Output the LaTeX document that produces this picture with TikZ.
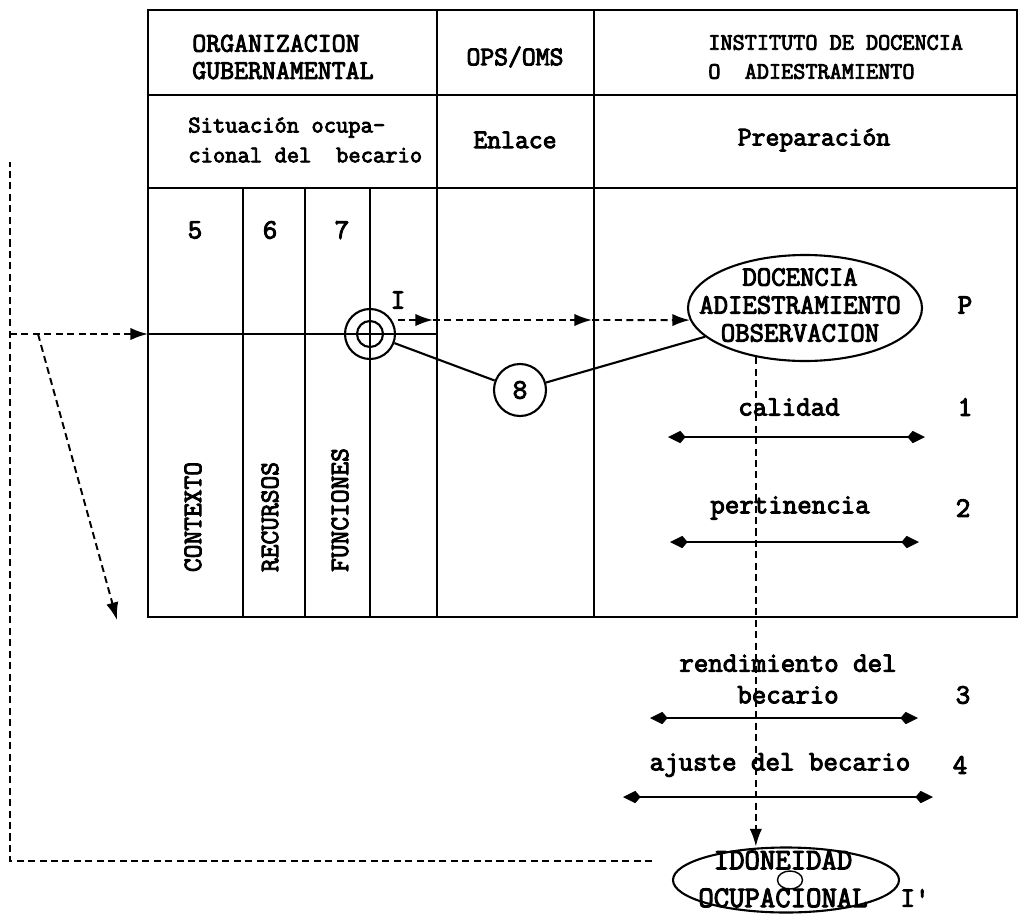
\documentclass[tikz,border=0pt]{standalone}
\usepackage{fontspec}
\setmonofont{Latin Modern Mono}[BoldFont={Latin Modern Mono}, BoldFeatures={FakeBold=3.5}]
\usetikzlibrary{arrows.meta,shapes.geometric}

\tikzset{
  tt/.style 2 args={font=\ttfamily\bfseries\fontsize{#1}{#2}\selectfont},
  ln/.style={line width=1.2pt},
  dsh/.style={line width=1.1pt, dash pattern=on 4pt off 2.5pt},
  pf/.style={dsh, -{Latex[length=10pt,width=7pt]}},
  dbl/.style={line width=1.2pt, {Kite[length=10pt,width=7pt,inset=3pt]}-{Kite[length=10pt,width=7pt,inset=3pt]}}
}

\begin{document}
\begin{tikzpicture}[x=0.2mm,y=-0.2mm]
\tikzstyle{every node}+=[inner sep=0pt]
\useasboundingbox (0,0) rectangle (1020,913);
% tabla
\draw [ln] (148,10) rectangle (1017,617);
\draw [ln] (148,95) -- (1017,95);
\draw [ln] (148,188) -- (1017,188);
\draw [ln] (437,10) -- (437,617);
\draw [ln] (594,10) -- (594,617);
\foreach \x in {243,305,370}
  \draw [ln] (\x,188) -- (\x,617);
\draw [ln] (148,334) -- (437,334);
% encabezados
\node [tt={15.4}{15.5}, align=left, anchor=west] (org) at (192,57) {ORGANIZACION\\GUBERNAMENTAL};
\node [tt={15.3}{16}] (ops) at (515,57) {OPS/OMS};
\node [tt={13.4}{16.5}, align=left, anchor=west] (inst) at (708,57) {INSTITUTO DE DOCENCIA\\O\ \ ADIESTRAMIENTO};
\node [tt={13.6}{17}, align=left, anchor=west] (sit) at (188,140) {Situación ocupa-\\cional del\ \ becario};
\node [tt={15.3}{16}] (enl) at (515,140) {Enlace};
\node [tt={15.3}{16}] (prep) at (814,140) {Preparación};
% columnas
\node [tt={16}{16}] (c5) at (195,230) {5};
\node [tt={16}{16}] (c6) at (270,230) {6};
\node [tt={16}{16}] (c7) at (342,230) {7};
\node [tt={15.2}{16}, rotate=90] (ctx) at (193,517) {CONTEXTO};
\node [tt={15.2}{16}, rotate=90] (rec) at (270,517) {RECURSOS};
\node [tt={15.2}{16}, rotate=90] (fun) at (340,510) {FUNCIONES};
% diana y nodos
\node [ln, draw, circle, minimum size=10mm] (tgt) at (370,334) {};
\node [ln, draw, circle, minimum size=5.2mm] (tgti) at (370,334) {};
\node [ln, draw, circle, minimum size=10.4mm, tt={16}{16}] (n8) at (520,390) {8};
\node [ln, draw, ellipse, minimum width=46.8mm, minimum height=21.2mm] (doc) at (805,308) {};
\node [tt={15.9}{15.9}, align=center] (doct) at (800,305) {DOCENCIA\\ADIESTRAMIENTO\\OBSERVACION};
\node [tt={16}{16}] (p) at (965,305) {P};
\node [ln, draw, ellipse, minimum width=45.2mm, minimum height=13mm] (ido) at (786,880) {};
\node [tt={17}{21.5}, align=center] (idot) at (783,879) {IDONEIDAD\\OCUPACIONAL};
\node [draw, line width=0.8pt, ellipse, minimum width=5mm, minimum height=3.6mm] (o) at (790,880) {};
\node [tt={16}{16}] (ip) at (915,898) {I'};
% conexiones
\draw [ln] (tgt) -- (n8);
\draw [ln] (n8) -- (doc);
\coordinate (i0) at (398,320);
\coordinate (i1) at (433,320);
\coordinate (i2) at (592,320);
\node [tt={16}{16}] (ii) at (398,300) {I};
\draw [pf] (i0) -- (i1);
\draw [pf] (i1) -- (i2);
\draw [pf] (i2) -- (doc.186);
\draw [pf] (doc.225) -- (doc.225 |- ido.north);
% lazo de retorno
\coordinate (lt) at (10,162);
\coordinate (lb) at (10,861);
\coordinate (le) at (652,861);
\coordinate (lm) at (10,334);
\coordinate (tin) at (148,334);
\coordinate (ld) at (38,334);
\coordinate (dd) at (117,620);
\draw [dsh] (le) -- (lb) -- (lt);
\draw [pf] (lm) -- (tin);
\draw [pf] (ld) -- (dd);
% criterios
\node [tt={16}{16}] (cal) at (789,407) {calidad};
\node [tt={16}{16}] (k1) at (965,407) {1};
\coordinate (a1l) at (668,437);
\coordinate (a1r) at (925,437);
\draw [dbl] (a1l) -- (a1r);
\node [tt={16}{16}] (per) at (790,508) {pertinencia};
\node [tt={16}{16}] (k2) at (963,508) {2};
\coordinate (a2l) at (670,542);
\coordinate (a2r) at (919,542);
\draw [dbl] (a2l) -- (a2r);
\node [tt={16}{18}, align=center] (ren) at (788,679) {rendimiento del\\becario};
\node [tt={16}{16}] (k3) at (963,695) {3};
\coordinate (a3l) at (650,718);
\coordinate (a3r) at (918,718);
\draw [dbl] (a3l) -- (a3r);
\node [tt={16}{16}] (aju) at (780,765) {ajuste del becario};
\node [tt={16}{16}] (k4) at (960,765) {4};
\coordinate (a4l) at (623,797);
\coordinate (a4r) at (933,797);
\draw [dbl] (a4l) -- (a4r);
\end{tikzpicture}
\end{document}
